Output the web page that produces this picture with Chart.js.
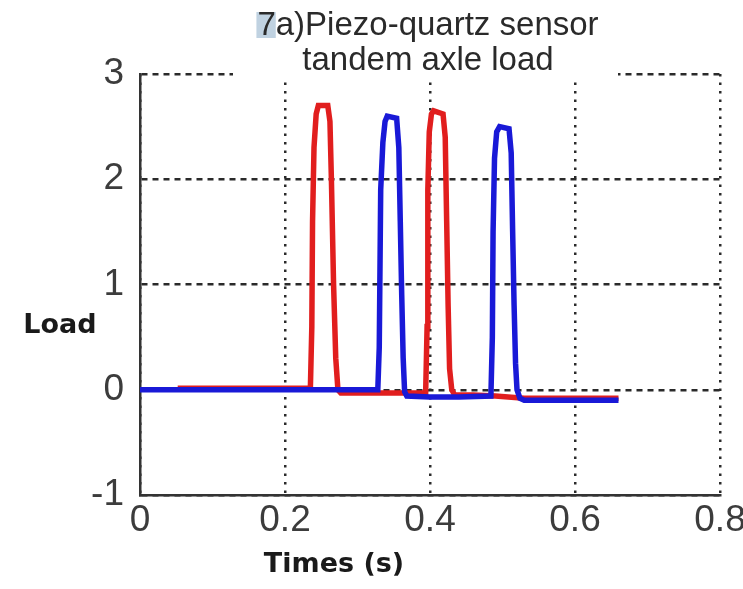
<!DOCTYPE html>
<html>
<head>
<meta charset="utf-8">
<script src="https://cdn.jsdelivr.net/npm/chart.js@4"></script>
<style>
  html, body { margin: 0; padding: 0; background: #fff; }
  #wrap { width: 743px; height: 589px; }
</style>
</head>
<body>
<div id="wrap"><canvas id="loadChart" width="743" height="589"></canvas></div>
<script>
// tick values
const xTicks = [0, 0.2, 0.4, 0.6, 0.8];
const yTicks = [-1, 0, 1, 2, 3];

// red trace (first sensor): time (s) and load
const redTime = [0.052, 0.10, 0.15, 0.20, 0.235, 0.237, 0.238, 0.240, 0.243, 0.246, 0.259, 0.262, 0.264, 0.267, 0.270, 0.273, 0.277,
  0.30, 0.35, 0.38, 0.394, 0.396, 0.397, 0.399, 0.402, 0.405, 0.418, 0.421, 0.423, 0.425, 0.427, 0.430, 0.434, 0.46, 0.49, 0.53, 0.60, 0.66];
const redLoad = [0.015, 0.015, 0.015, 0.015, 0.015, 0.6, 1.6, 2.3, 2.62, 2.7, 2.7, 2.55, 2.0, 1.0, 0.3, 0.0, -0.03,
  -0.03, -0.03, -0.03, -0.03, 0.6, 1.9, 2.45, 2.62, 2.65, 2.62, 2.4, 1.6, 0.8, 0.2, 0.0, -0.05, -0.05, -0.06, -0.08, -0.08, -0.08];

// blue trace (second sensor)
const blueTime = [0, 0.10, 0.20, 0.30, 0.328, 0.330, 0.332, 0.335, 0.338, 0.341, 0.354, 0.357, 0.359, 0.361, 0.363, 0.365, 0.368,
  0.40, 0.44, 0.484, 0.486, 0.487, 0.489, 0.492, 0.496, 0.509, 0.512, 0.514, 0.516, 0.518, 0.520, 0.524, 0.53, 0.56, 0.60, 0.66];
const blueLoad = [0, 0, 0, 0, 0, 0.4, 1.9, 2.35, 2.55, 2.6, 2.58, 2.3, 1.6, 0.9, 0.3, -0.02, -0.06,
  -0.07, -0.07, -0.06, 0.5, 1.5, 2.2, 2.45, 2.5, 2.48, 2.25, 1.5, 0.8, 0.25, 0.0, -0.08, -0.1, -0.1, -0.1, -0.1];

const toPoints = (xs, ys) => xs.map((x, i) => ({ x: x, y: ys[i] }));

// title and axis labels drawn over the grid, like the matlab figure
const labelsPlugin = {
  id: 'labels',
  beforeDatasetsDraw(chart) {
    const c = chart.ctx;
    c.save();
    c.fillStyle = '#fff';
    c.fillRect(233, 0, 385, 79);
    c.font = '33px "Liberation Sans", Arial, sans-serif';
    const line1 = '7a)Piezo-quartz sensor';
    const w1 = c.measureText(line1).width;
    const x0 = 428 - w1 / 2;
    c.fillStyle = 'rgba(150,180,205,0.6)';
    c.fillRect(x0 - 1, 12, c.measureText('7').width + 1, 26);
    c.fillStyle = '#2a2a2a';
    c.textAlign = 'center';
    c.textBaseline = 'alphabetic';
    c.fillText(line1, 428, 35);
    c.fillText('tandem axle load', 428, 70);
    c.font = 'bold 27px "DejaVu Sans", sans-serif';
    c.fillStyle = '#1a1a1a';
    c.textBaseline = 'middle';
    c.fillText('Load', 60, 326);
    c.fillText('Times (s)', 334, 565);
    c.restore();
  }
};

const tickFont = { family: '"Liberation Sans", Arial, sans-serif', size: 37 };

new Chart(document.getElementById('loadChart'), {
  type: 'line',
  data: {
    datasets: [{
      label: 'blue',
      data: toPoints(blueTime, blueLoad),
      borderColor: 'rgb(25,25,215)',
      borderWidth: 5.5,
      pointRadius: 0,
      tension: 0
    }, {
      label: 'red',
      data: toPoints(redTime, redLoad),
      borderColor: 'rgb(225,30,30)',
      borderWidth: 5.5,
      pointRadius: 0,
      tension: 0
    }]
  },
  options: {
    responsive: false,
    animation: false,
    layout: { padding: { left: 0, top: 74, right: 23, bottom: 0 } },
    plugins: {
      legend: { display: false },
      tooltip: { enabled: false }
    },
    scales: {
      x: {
        type: 'linear',
        min: 0,
        max: 0.8,
        afterBuildTicks: (s) => { s.ticks = xTicks.map(v => ({ value: v })); },
        afterFit: (s) => { s.height = 94; s.paddingLeft = 0; s.paddingRight = 0; },
        ticks: {
          font: tickFont,
          color: '#3c3c3c',
          padding: 4,
          maxRotation: 0,
          autoSkip: false,
          callback: (v) => String(v)
        },
        grid: { color: '#2a2a2a', lineWidth: 2.5, drawTicks: false },
        border: { display: true, color: '#333', width: 2.5, dash: [2.5, 6] }
      },
      y: {
        min: -1,
        max: 3,
        afterBuildTicks: (s) => { s.ticks = yTicks.map(v => ({ value: v })); },
        afterFit: (s) => { s.width = 140; s.paddingTop = 0; s.paddingBottom = 0; },
        ticks: {
          font: tickFont,
          color: '#3c3c3c',
          padding: 16,
          autoSkip: false
        },
        grid: { color: '#2a2a2a', lineWidth: 2.5, drawTicks: false },
        border: { display: true, color: '#333', width: 2.5, dash: [6, 5] }
      }
    }
  },
  plugins: [labelsPlugin]
});
</script>
</body>
</html>
